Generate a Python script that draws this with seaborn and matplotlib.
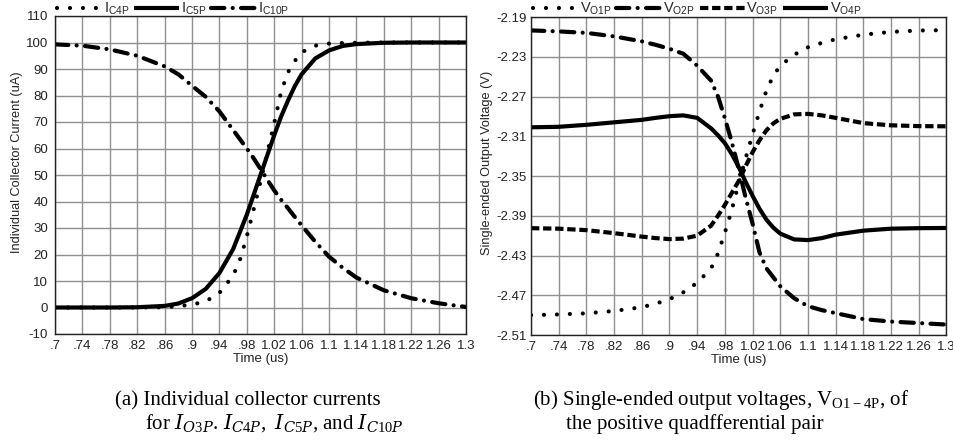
import matplotlib
matplotlib.use("Agg")
import matplotlib.pyplot as plt
import pandas as pd
import seaborn as sns

# ---------------- data ----------------
time_us = [0.70, 0.74, 0.78, 0.82, 0.86, 0.88, 0.90, 0.92, 0.94, 0.96, 0.97, 0.98,
           0.99, 1.00, 1.01, 1.02, 1.03, 1.04, 1.05, 1.06, 1.08, 1.10, 1.12, 1.14,
           1.18, 1.22, 1.26, 1.30]

i_c4p = [0, 0, 0, 0, 0.1, 0.5, 1.1, 2.3, 5.5, 12, 18, 26.8, 37, 47.5, 58.6, 69.5,
         81.3, 88.7, 93, 96.3, 98.8, 99.6, 99.8, 99.9, 100, 100, 100, 100]
i_c5p = [0, 0, 0, 0.1, 0.6, 1.5, 3.5, 7, 13, 22, 28.5, 35, 42.5, 50, 57.5, 65,
         72, 78, 83.5, 88, 94, 97, 98.7, 99.4, 99.9, 100, 100, 100]
i_c10p = [99.3, 98.8, 97.4, 95, 91, 88, 83.7, 79.5, 74, 67, 63.5, 60, 56.3, 52.3,
          48.2, 44.2, 40.7, 37.5, 34.2, 31, 24.8, 19.2, 15, 11.3, 6.5, 3.5, 1.6, 0.2]

v_o1p = [-2.490, -2.4893, -2.4882, -2.4858, -2.482, -2.4785, -2.474, -2.467, -2.4575,
         -2.443, -2.428, -2.407, -2.384, -2.357, -2.332, -2.308, -2.285, -2.264,
         -2.249, -2.239, -2.228, -2.2205, -2.216, -2.2124, -2.2078, -2.205, -2.2036,
         -2.2032]
v_o2p = [-2.2035, -2.2045, -2.206, -2.2095, -2.2145, -2.218, -2.222, -2.227, -2.239,
         -2.254, -2.270, -2.292, -2.316, -2.343, -2.372, -2.398, -2.427, -2.443,
         -2.452, -2.461, -2.473, -2.481, -2.485, -2.488, -2.494, -2.4965, -2.498,
         -2.4995]
v_o3p = [-2.4025, -2.403, -2.4045, -2.4075, -2.411, -2.4125, -2.4135, -2.413, -2.410,
         -2.400, -2.390, -2.379, -2.367, -2.355, -2.340, -2.326, -2.314, -2.304,
         -2.297, -2.2925, -2.288, -2.2875, -2.289, -2.2915, -2.2968, -2.299, -2.2998,
         -2.300]
v_o4p = [-2.301, -2.3005, -2.2985, -2.296, -2.2935, -2.2915, -2.2898, -2.289, -2.2915,
         -2.302, -2.309, -2.317, -2.328, -2.341, -2.356, -2.370, -2.383, -2.394,
         -2.402, -2.408, -2.4138, -2.4145, -2.4125, -2.409, -2.405, -2.403, -2.4025,
         -2.4023]

x_ticks = [0.70, 0.74, 0.78, 0.82, 0.86, 0.90, 0.94, 0.98, 1.02, 1.06, 1.10, 1.14,
           1.18, 1.22, 1.26, 1.30]
x_tick_labels = [".7", ".74", ".78", ".82", ".86", ".9", ".94", ".98", "1.02", "1.06",
                 "1.1", "1.14", "1.18", "1.22", "1.26", "1.3"]
left_yticks = [-10, 0, 10, 20, 30, 40, 50, 60, 70, 80, 90, 100, 110]
right_yticks = [-2.51, -2.47, -2.43, -2.39, -2.35, -2.31, -2.27, -2.23, -2.19]
right_ytick_labels = ["-2.51", "-2.47", "-2.43", "-2.39", "-2.35", "-2.31", "-2.27",
                      "-2.23", "-2.19"]

left_labels = [r"I$_{\mathregular{C4P}}$", r"I$_{\mathregular{C5P}}$",
               r"I$_{\mathregular{C10P}}$"]
right_labels = [r"V$_{\mathregular{O1P}}$", r"V$_{\mathregular{O2P}}$",
                r"V$_{\mathregular{O3P}}$", r"V$_{\mathregular{O4P}}$"]

# ---------------- styles ----------------
DOT = dict(linestyle=(0, (0.01, 3.1)), dash_capstyle="round")
SOLID = dict(linestyle="-", solid_capstyle="butt")
DASHDOT = dict(linestyle=(0, (3.2, 2.0, 0.01, 2.0)), dash_capstyle="round")
DASH = dict(linestyle=(0, (2.0, 0.9)), dash_capstyle="butt")

sns.set_theme(style="whitegrid")
plt.rcParams["font.family"] = ["Liberation Sans", "DejaVu Sans"]
plt.rcParams["mathtext.fontset"] = "custom"
plt.rcParams["mathtext.rm"] = "Liberation Serif"
plt.rcParams["mathtext.it"] = "DejaVu Serif:italic"
plt.rcParams["mathtext.bf"] = "Liberation Serif:bold"
plt.rcParams["mathtext.sf"] = "Liberation Sans"
plt.rcParams["axes.unicode_minus"] = False

W, H = 954, 441
fig = plt.figure(figsize=(W / 100, H / 100), dpi=100)
fig.patch.set_facecolor("white")

ax1 = fig.add_axes([55 / W, 1 - 334 / H, (466 - 55) / W, (334 - 16) / H])
ax2 = fig.add_axes([531 / W, 1 - 335 / H, (946.5 - 531) / W, (335 - 17) / H])

lw = 3.0
df_left = pd.DataFrame({"t": time_us, "a": i_c4p, "b": i_c5p, "c": i_c10p})
for col, lab, sty in zip(["a", "b", "c"], left_labels, [DOT, SOLID, DASHDOT]):
    sns.lineplot(data=df_left, x="t", y=col, ax=ax1, color="black", lw=lw,
                 label=lab, **sty)

df_right = pd.DataFrame({"t": time_us, "a": v_o1p, "b": v_o2p, "c": v_o3p, "d": v_o4p})
for col, lab, sty in zip(["a", "b", "c", "d"], right_labels, [DOT, DASHDOT, DASH, SOLID]):
    sns.lineplot(data=df_right, x="t", y=col, ax=ax2, color="black", lw=lw,
                 label=lab, **sty)

for ax in (ax1, ax2):
    ax.set_facecolor("white")
    ax.set_xlim(0.7, 1.3)
    ax.set_xticks(x_ticks)
    ax.set_xticklabels(x_tick_labels)
    ax.grid(True, color="#8f8f8f", lw=1.0)
    ax.set_axisbelow(True)
    for sp in ax.spines.values():
        sp.set_visible(True)
        sp.set_color("#222222")
        sp.set_linewidth(1.0)
    ax.tick_params(axis="both", length=0, labelsize=9.5, colors="#222222")
    ax.tick_params(axis="x", pad=4)
    ax.set_xlabel("Time (us)", fontsize=9.5, color="#222222", labelpad=1)

ax1.set_ylim(-10, 110)
ax1.set_yticks(left_yticks)
ax1.tick_params(axis="y", pad=5)
ax1.set_ylabel("Individual Collector Current (uA)", fontsize=9.2, color="#222222")
ax1.yaxis.set_label_coords(-0.078, 0.54)

ax2.set_ylim(-2.51, -2.19)
ax2.set_yticks(right_yticks)
ax2.set_yticklabels(right_ytick_labels)
ax2.tick_params(axis="y", pad=3)
ax2.set_ylabel("Single-ended Output Voltage (V)", fontsize=9.2, color="#222222")
ax2.yaxis.set_label_coords(-0.092, 0.54)

leg_kw = dict(loc="center left", frameon=False, handlelength=3.1,
              handletextpad=0.12, columnspacing=0.3, borderaxespad=0,
              borderpad=0, fontsize=10.5)
ax1.legend(ncol=3, bbox_to_anchor=(0.005, 1 + 7 / 318), **leg_kw)
ax2.legend(ncol=4, bbox_to_anchor=(0.005, 1 + 8 / 318), **leg_kw)

cap = dict(fontsize=15, family="Liberation Serif", color="black", ha="left",
           va="baseline")
fig.text(115 / W, 1 - 405 / H, "(a) Individual collector currents", **cap)
fig.text(145 / W, 1 - 429 / H,
         r"for $I_{O3P}$.$\;I_{C4P},\;I_{C5P}$, and $I_{C10P}$", **cap)
fig.text(533 / W, 1 - 405 / H,
         r"(b) Single-ended output voltages, $\mathrm{V}_{\mathrm{O1-4P}}$, of", **cap)
fig.text(566 / W, 1 - 429 / H, "the positive quadfferential pair", **cap)

fig.savefig("out.png", dpi=100, facecolor="white")
